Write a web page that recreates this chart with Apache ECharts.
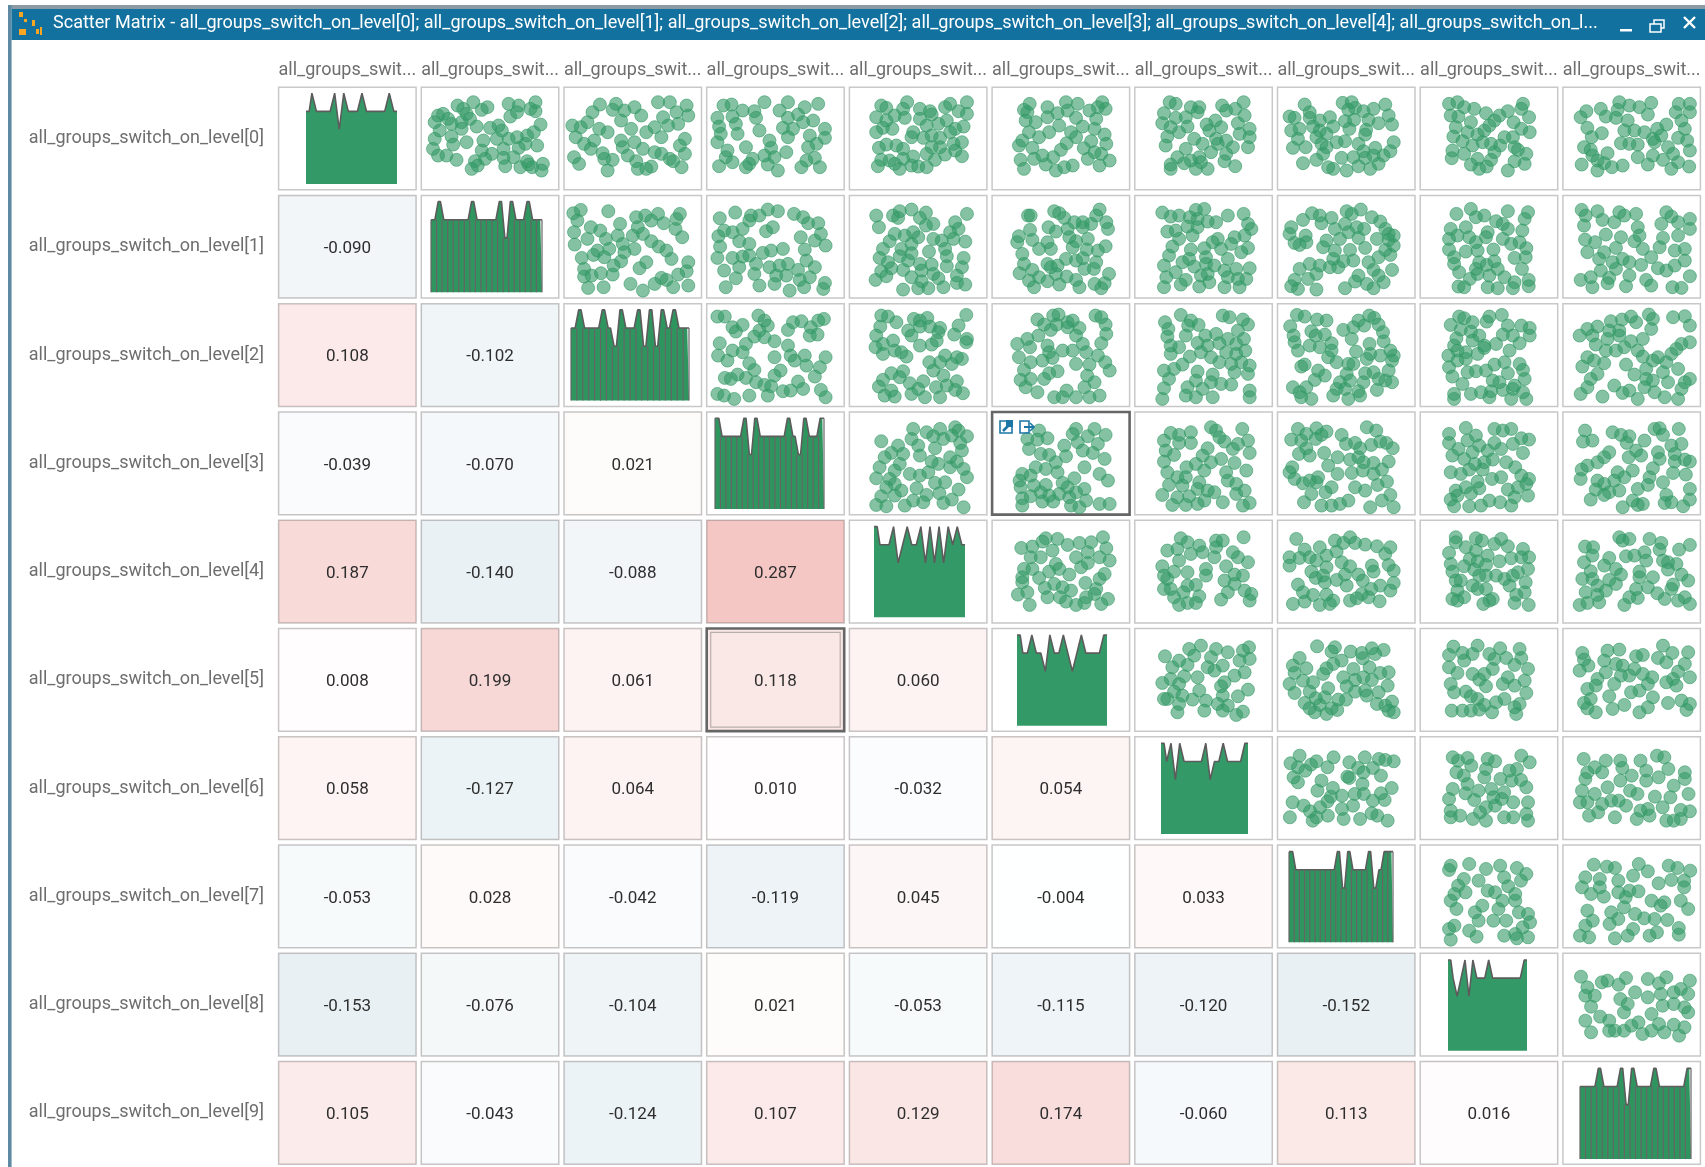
<!DOCTYPE html>
<html><head><meta charset="utf-8"><style>html,body{margin:0;padding:0;background:#fff}#c{width:1705px;height:1167px;filter:blur(0.45px)}</style>
<script src="https://cdn.jsdelivr.net/npm/echarts@6/dist/echarts.min.js"></script></head><body><div id="c"></div>
<script>
const names=[0,1,2,3,4,5,6,7,8,9].map(i=>`all_groups_switch_on_level[${i}]`);
const windowTitle="Scatter Matrix - all_groups_switch_on_level[0]; all_groups_switch_on_level[1]; all_groups_switch_on_level[2]; all_groups_switch_on_level[3]; all_groups_switch_on_level[4]; all_groups_switch_on_l...";
// correlation, lower triangle, one list per row
const corr1=[-0.090];
const corr2=[0.108,-0.102];
const corr3=[-0.039,-0.070,0.021];
const corr4=[0.187,-0.140,-0.088,0.287];
const corr5=[0.008,0.199,0.061,0.118,0.060];
const corr6=[0.058,-0.127,0.064,0.010,-0.032,0.054];
const corr7=[-0.053,0.028,-0.042,-0.119,0.045,-0.004,0.033];
const corr8=[-0.153,-0.076,-0.104,0.021,-0.053,-0.115,-0.120,-0.152];
const corr9=[0.105,-0.043,-0.124,0.107,0.129,0.174,-0.060,0.113,0.016];
// histogram counts per bin, diagonal
const h0=[4,5,4,4,4,4,5,3,5,4,4,4,5,4,4,4,4,4,5,4];
const h1=[4,5,4,4,4,4,4,5,4,4,4,4,5,3,5,4,4,5,4,4];
const h2=[4,5,4,4,4,5,4,3,5,4,4,5,3,5,3,5,4,5,4,4];
const h3=[5,4,4,4,4,5,3,5,4,4,4,4,4,5,4,3,5,4,4,5];
const h4=[5,4,4,4,5,3,4,5,4,4,5,3,5,3,5,3,5,4,5,4];
const h5=[5,4,4,5,4,4,3,5,4,4,5,4,3,4,5,4,4,4,4,5];
const h6=[5,4,5,3,5,4,4,4,4,4,5,3,4,4,5,4,4,4,4,5];
const h7=[5,4,4,4,4,4,4,4,4,5,3,5,4,4,4,5,3,4,5,5];
const h8=[5,4,3,4,5,3,5,4,4,4,5,4,4,4,4,4,4,4,4,5];
const h9=[4,4,4,5,4,4,4,5,3,5,4,4,4,5,4,4,4,4,4,5];
// scatter samples, flat x,y lists; sNM = row N, column M
const s01=[155,45,108,55,125,65,135,80,197,60,180,68,260,50,290,55,340,45,340,72,325,65,265,88,285,75,65,80,50,85,80,95,40,105,145,95,120,105,90,110,355,112,335,135,315,145,230,115,205,122,165,118,240,130,120,125,55,130,40,155,90,148,135,165,185,160,225,155,260,155,285,150,310,170,345,175,245,185,290,182,95,172,180,190,35,185,50,205,75,205,105,218,210,200,190,215,160,222,245,212,275,210,168,235,150,245,250,237,295,240,315,222,330,240,362,230,358,250,320,232];
const s02=[107,52,155,50,280,45,315,45,365,55,210,60,145,68,180,70,85,75,70,105,25,115,50,120,105,125,130,135,170,100,230,85,295,90,335,75,370,85,340,110,310,115,200,125,270,120,245,135,290,150,35,150,60,170,90,160,170,160,210,165,175,180,80,185,115,198,235,185,270,195,290,200,190,205,360,155,345,175,360,200,315,215,30,210,45,230,120,215,145,218,215,222,130,250,260,238,220,245,245,245,350,240,325,222];
const s03=[50,55,74,52,172,45,242,45,332,50,292,60,107,70,142,72,217,70,272,82,32,92,77,88,147,92,242,92,317,100,287,105,37,118,87,110,157,130,227,122,257,125,352,125,42,140,92,140,32,165,187,160,242,150,307,145,352,152,117,180,192,182,237,195,327,170,302,180,62,190,57,210,172,205,202,210,137,215,77,225,297,220,322,212,37,237,117,240,127,230,182,232,212,250,282,240,337,240];
const s04=[172,45,95,55,110,62,160,65,350,45,300,50,285,60,210,65,240,72,325,72,80,90,135,85,165,92,110,100,210,95,245,82,350,80,290,100,265,110,230,115,340,118,315,125,80,135,100,122,128,125,190,135,220,152,245,145,270,152,185,150,300,135,110,172,88,182,140,175,160,185,310,170,335,165,245,180,270,180,315,190,335,207,285,202,255,218,230,200,190,208,160,215,95,218,120,220,85,237,150,245,185,235,205,238,230,240,135,230];
const s05=[112,50,255,50,220,45,328,45,338,65,315,60,290,70,95,68,165,60,195,78,105,75,225,70,100,100,130,105,165,90,250,92,310,95,200,115,170,135,110,135,270,118,305,125,235,135,250,150,335,142,140,150,80,175,90,160,222,168,295,162,340,170,120,182,205,188,273,183,305,195,325,200,85,218,125,215,150,205,182,210,285,215,350,220,160,232,95,245,190,250,215,240,240,235,320,235];
const s06=[104,45,122,50,324,45,260,55,167,60,192,60,187,75,272,70,299,65,87,78,122,92,152,90,327,85,82,108,107,120,240,100,214,112,307,108,157,118,132,135,97,148,257,120,222,130,342,125,312,140,92,175,177,155,242,155,272,160,202,170,342,150,337,180,292,180,152,185,247,170,227,195,272,200,127,210,192,210,167,220,107,232,147,228,197,225,267,222,107,245,182,245,217,245,299,237];
const s07=[81,52,194,47,221,45,321,52,231,62,211,68,286,65,256,72,331,85,36,88,51,92,96,75,96,92,126,100,156,90,201,102,228,98,271,98,301,108,341,112,106,118,41,130,66,125,126,130,166,118,214,125,264,128,261,142,116,150,146,140,61,155,176,165,201,162,346,165,131,170,46,182,84,180,146,180,241,170,336,192,291,182,256,192,136,200,286,205,316,205,116,218,76,228,191,212,226,210,261,212,301,230,151,240,166,245,206,250,241,237,276,245];
const s08=[86,50,111,45,131,60,161,65,306,50,301,65,261,72,196,78,91,85,114,88,236,85,324,90,151,105,221,100,278,105,206,115,106,120,191,130,141,135,301,125,326,135,99,148,171,142,251,150,276,150,126,162,156,175,186,165,211,170,238,175,281,180,96,190,291,188,131,200,221,195,316,200,94,213,171,215,211,218,281,222,311,230,151,232,176,245,198,238,261,250];
const s09=[53,90,70,72,113,65,168,45,198,55,228,60,263,47,345,50,378,50,163,68,128,88,253,82,336,75,378,75,158,92,193,100,353,100,73,122,183,130,213,130,243,135,281,125,308,112,363,125,116,138,86,150,268,155,293,145,343,152,370,160,173,168,198,170,223,172,273,165,313,180,63,180,83,188,378,190,133,198,88,205,328,200,223,210,268,205,103,220,298,218,56,232,123,228,253,232,343,225,178,235,146,240,103,250,323,245,376,238];
const s12=[50,43,132,47,28,53,40,75,167,85,80,95,108,105,30,110,70,130,32,147,125,130,160,120,215,65,242,60,280,55,260,75,297,83,345,55,335,70,332,100,352,125,220,95,205,120,235,115,260,137,282,153,305,165,210,160,175,145,180,170,135,160,100,165,88,178,120,185,53,187,170,197,320,190,370,200,245,200,225,218,148,210,60,220,110,233,82,240,60,243,145,237,365,227,340,237,290,247,305,253,270,265,198,265,72,277,118,275,235,285,325,275,370,270];
const s13=[85,51,39,68,182,42,212,47,157,60,132,60,127,75,260,55,287,65,302,83,332,83,107,100,77,110,52,105,35,122,197,95,177,107,340,115,322,135,354,150,280,125,97,137,127,145,40,153,32,187,77,187,107,183,127,180,167,172,192,165,227,160,292,162,297,195,147,205,97,215,52,225,187,215,217,210,242,205,272,223,322,215,142,235,87,248,207,240,237,240,307,245,277,253,57,275,157,270,202,265,247,285,290,275,352,262,347,280];
const s14=[80,60,150,47,185,42,228,51,350,55,130,60,145,67,88,95,210,67,250,85,228,90,315,80,325,100,135,115,190,110,165,120,205,125,300,110,120,137,250,130,275,135,345,138,310,130,100,160,155,160,185,145,237,168,285,160,185,173,90,187,150,182,290,182,340,187,115,200,175,195,210,205,245,207,290,212,335,215,125,218,95,227,160,223,215,225,250,235,265,248,320,240,110,242,78,253,185,245,215,257,345,267,320,262,160,282,205,278,235,278,280,275];
const s15=[107,60,115,60,185,47,200,53,215,67,320,42,310,60,340,80,345,100,245,80,270,80,295,85,168,95,190,108,113,103,80,122,75,140,225,100,270,95,230,125,285,130,250,137,120,133,165,140,140,160,175,160,240,155,282,162,315,165,338,152,90,175,95,205,220,190,270,188,250,195,310,200,165,205,195,210,82,233,120,223,175,215,303,220,275,220,348,235,140,245,110,255,190,235,222,243,250,253,165,257,335,263,305,265,200,267,125,275,260,275,325,278];
const s16=[82,51,107,63,132,60,182,43,207,40,187,70,164,65,324,55,277,60,337,85,242,80,217,78,187,95,157,93,97,108,122,105,347,100,327,120,297,125,247,130,132,130,172,120,232,140,257,160,112,153,287,145,317,170,337,157,167,162,102,180,207,158,212,185,277,190,162,190,142,200,87,210,212,205,237,210,267,225,302,220,342,218,122,230,177,213,197,240,94,245,152,253,217,235,307,250,277,245,332,250,222,260,87,275,137,267,192,273,267,275,312,275];
const s17=[103,53,206,47,248,42,126,60,221,55,161,67,76,73,281,65,41,95,131,83,201,85,306,78,171,100,236,95,258,100,36,115,84,120,211,110,321,100,346,120,331,115,241,127,296,130,186,130,51,142,66,148,86,140,146,135,331,133,261,157,346,150,136,155,216,163,171,165,321,163,336,178,301,185,166,190,226,195,196,197,156,215,271,200,181,215,66,220,96,205,126,210,286,223,341,223,116,235,91,250,51,253,241,240,231,258,301,240,266,265,316,260,41,272,61,280,116,282,201,278,286,278];
const s18=[108,55,151,40,261,47,321,50,191,60,166,65,311,70,226,77,91,100,136,95,246,85,304,105,261,100,201,110,86,130,111,120,146,125,166,140,196,125,246,130,271,145,296,140,86,162,136,168,171,165,218,162,316,158,281,187,314,185,101,185,101,205,176,200,221,197,198,208,303,220,166,220,116,230,231,220,171,235,206,240,251,245,148,250,323,253,281,260,114,273,131,275,201,275,231,278,276,278,323,272];
const s19=[56,43,103,47,168,50,218,55,308,50,68,60,183,60,323,63,118,73,153,80,378,70,343,80,293,85,63,90,223,95,378,100,128,117,173,125,228,120,298,127,343,120,66,132,213,137,96,140,238,160,288,155,363,160,73,170,123,170,158,157,263,185,333,165,108,190,178,190,148,200,198,200,363,195,233,208,333,210,283,218,158,220,113,225,308,225,198,240,83,245,378,242,53,253,138,247,248,253,88,275,188,272,133,263,263,270,326,275,353,277];
const s23=[32,38,54,38,154,35,172,50,282,52,257,55,349,45,332,50,107,63,77,70,87,83,182,65,157,80,242,78,310,70,307,95,330,92,142,98,172,100,202,112,39,118,117,120,107,145,77,140,242,125,250,155,292,155,34,155,62,170,127,178,202,160,262,170,354,160,297,185,337,190,220,200,202,215,142,198,92,212,54,222,72,225,117,222,322,218,147,235,172,243,192,247,272,233,250,260,287,255,32,270,52,275,127,275,182,275,227,262,340,258,354,280,82,285];
const s24=[95,35,115,38,192,45,210,50,232,42,348,33,140,55,92,68,325,65,270,72,240,68,210,68,175,80,265,85,312,92,80,95,185,95,350,105,348,115,130,110,260,110,245,122,78,130,100,120,210,125,135,140,155,145,100,150,170,158,285,155,320,160,335,165,238,175,270,175,305,180,250,200,280,215,125,208,160,202,150,220,320,232,100,228,88,248,180,238,220,232,258,250,290,245,315,258,338,268,125,260,205,255,105,275,135,278,185,270,270,280,225,280];
const s25=[135,47,182,35,198,32,308,35,325,40,338,62,225,55,240,50,155,62,192,62,225,70,260,72,175,78,138,95,105,105,340,90,250,95,75,120,113,130,165,125,270,120,325,118,80,160,170,145,210,140,240,140,280,145,150,170,180,162,115,175,315,155,337,175,95,198,250,180,290,182,350,200,195,202,170,208,155,225,85,228,115,225,283,215,305,235,100,250,135,265,275,250,222,260,185,280,210,280,250,280,320,275,290,280];
const s26=[137,33,262,35,282,40,90,55,167,50,322,47,337,62,159,65,190,63,100,75,307,80,152,95,210,95,242,90,97,98,277,105,325,105,302,120,187,117,217,125,132,130,107,125,252,118,329,140,107,150,197,145,227,160,164,158,272,145,302,150,142,182,87,200,252,175,287,180,317,175,117,195,342,185,187,203,232,212,297,205,337,210,102,225,182,230,227,235,257,240,287,242,157,250,87,253,202,255,342,260,152,275,182,280,82,285,232,280,342,280];
const s27=[58,33,81,38,118,47,146,50,273,35,288,42,241,50,38,67,196,78,226,70,258,65,301,62,101,82,114,95,141,92,314,85,48,95,221,105,51,115,96,125,161,118,126,130,316,112,274,120,61,140,234,143,161,140,336,140,276,150,306,155,346,155,151,160,266,165,176,175,211,180,226,180,341,170,81,182,71,188,121,200,141,215,206,210,261,208,286,205,331,200,111,228,186,235,216,230,256,235,301,225,341,235,321,230,46,250,86,250,176,255,201,255,241,262,296,258,66,265,71,280,101,285,166,275,211,285,246,275];
const s28=[116,38,131,43,156,55,206,38,198,53,243,33,91,63,121,77,261,65,301,65,326,72,151,83,176,95,246,92,276,95,326,95,108,103,156,110,296,118,191,125,226,120,101,125,266,140,84,155,111,140,136,145,171,150,191,132,111,170,86,190,136,165,221,182,251,175,296,180,96,218,141,205,166,202,196,200,261,208,306,198,311,225,126,240,216,230,236,235,281,245,101,270,151,270,181,265,211,262,246,258,276,255,306,265,101,285,206,280,271,285,316,285];
const s29=[50,95,73,75,103,68,143,52,176,47,203,38,256,32,268,45,328,40,363,37,378,65,218,55,138,80,168,80,88,95,133,105,168,95,263,75,203,112,238,105,378,115,353,120,98,122,128,140,158,140,183,130,223,140,238,158,323,150,338,135,73,160,123,178,93,170,58,188,188,182,283,160,268,170,308,175,248,195,343,195,103,210,213,212,298,205,378,225,363,235,83,225,248,225,268,230,313,235,153,245,243,250,73,250,53,270,178,267,198,260,118,278,273,265,353,255,303,280,343,285,223,285];
const s34=[95,87,190,50,230,60,270,50,315,45,325,55,350,72,250,72,185,80,280,80,305,70,330,92,205,100,145,100,255,108,125,122,160,125,105,135,210,130,335,115,300,135,90,165,150,155,245,148,320,148,265,155,300,165,180,185,135,175,210,190,235,180,340,170,80,198,350,195,120,200,135,215,110,225,155,235,200,228,255,212,285,210,325,232,135,250,230,248,268,243,95,252,305,262,190,265,220,270,80,278,110,282,165,280,280,272,340,285];
const s35=[140,55,250,50,305,50,338,68,105,80,135,82,165,78,240,65,285,72,110,110,145,125,255,90,315,95,215,100,170,128,300,122,270,115,220,132,190,150,275,165,335,140,130,165,160,170,195,180,320,185,345,205,90,185,115,190,245,198,82,205,210,212,125,220,160,218,85,225,225,225,275,230,145,240,200,245,250,240,115,252,90,258,170,250,230,255,150,268,182,268,280,265,235,280,90,280,260,285,320,275,350,275];
const s36=[227,45,320,50,167,60,107,62,132,68,242,55,252,75,87,85,337,85,167,92,132,92,267,88,307,95,217,108,292,110,92,115,117,128,342,122,202,130,257,140,87,148,182,155,227,150,297,152,154,165,97,180,207,175,332,175,272,180,127,195,152,195,277,205,302,215,102,218,192,210,142,220,327,235,82,248,187,230,237,240,217,235,302,245,127,255,162,252,262,270,112,278,152,278,187,275,207,265,322,280,342,272];
const s37=[61,50,116,48,146,58,266,45,294,55,191,68,86,65,131,68,41,82,71,85,114,80,204,95,231,92,279,98,306,88,324,92,343,108,86,108,246,108,64,125,96,130,139,122,216,142,179,135,241,135,331,148,286,152,44,165,151,160,256,150,36,180,179,185,221,182,254,175,311,172,286,185,51,200,121,195,96,205,76,213,116,210,298,218,326,208,161,225,231,225,261,235,143,240,101,245,211,265,336,248,311,265,79,270,131,280,161,280,186,275,346,285,276,285];
const s38=[136,47,221,50,271,50,86,65,166,70,246,55,301,78,324,82,141,85,86,92,176,100,221,92,276,95,114,110,156,120,201,115,241,110,306,122,96,130,131,140,216,142,191,150,256,150,163,155,283,165,91,180,121,185,146,172,186,172,214,200,241,195,171,208,301,190,324,200,136,225,106,235,261,232,291,225,316,215,176,228,151,243,321,250,281,255,91,262,111,250,206,265,238,270,181,280,146,282,101,282,271,280];
const s39=[66,55,60,88,88,85,148,60,173,68,198,72,273,50,288,48,298,68,345,50,190,92,243,85,323,100,353,95,218,115,196,135,233,130,283,120,333,125,138,120,123,135,103,150,288,140,363,142,333,148,73,160,378,148,208,175,163,180,268,168,56,172,328,182,366,187,53,200,183,195,103,205,258,195,153,205,123,215,253,218,298,210,138,240,168,235,98,232,378,230,223,230,308,248,83,262,123,248,208,265,238,275,378,262,303,272,323,270,178,285,223,278,358,282];
const s45=[195,55,330,50,87,82,120,78,150,63,160,53,225,73,260,67,295,65,340,83,180,90,145,110,115,110,250,110,285,95,350,120,320,110,95,145,190,130,285,127,230,162,170,153,200,145,265,140,335,160,320,175,120,145,90,170,140,172,278,187,185,190,210,200,90,185,157,202,235,210,310,205,77,222,105,215,165,230,202,230,305,220,345,235,280,230,220,243,112,253,250,253,275,247,325,250];
const s46=[324,50,137,53,192,75,242,60,262,60,242,80,97,90,127,85,157,65,167,100,202,95,237,110,292,95,307,110,132,120,337,125,82,137,212,145,272,137,87,165,117,153,157,155,297,162,97,175,212,165,322,165,182,193,267,180,297,190,107,205,87,205,157,195,327,210,347,220,277,215,145,215,117,230,342,240,257,237,192,227,132,253,182,247,157,247];
const s47=[56,55,216,50,171,60,196,67,231,67,261,72,296,77,336,80,81,87,126,80,176,93,321,100,36,110,66,112,96,110,116,120,146,105,191,125,216,137,281,135,36,135,331,133,346,150,146,140,101,153,241,162,286,153,201,162,114,172,136,165,176,178,141,185,254,180,61,192,206,195,346,187,306,195,279,205,336,210,76,215,106,223,146,222,251,220,46,250,81,243,126,253,166,240,156,250,236,233,216,240,304,242,271,230];
const s48=[106,50,106,65,166,53,184,60,241,55,221,70,261,77,136,80,86,97,306,85,201,105,271,113,301,110,324,110,166,90,148,115,91,130,131,137,171,122,196,133,236,122,96,153,161,147,321,145,291,155,276,165,196,165,121,180,176,165,251,175,226,165,106,180,156,195,314,185,266,195,171,205,111,210,196,205,311,215,286,223,96,235,131,230,206,240,216,235,111,240,188,250,281,247,323,253];
const s49=[66,78,90,80,168,50,198,55,258,55,293,67,378,73,178,60,88,105,188,107,213,105,243,95,288,87,346,87,138,112,63,125,298,120,248,120,123,135,158,145,313,125,338,130,83,152,228,153,313,147,58,175,88,175,173,162,228,170,353,162,268,170,138,178,158,190,373,180,103,195,218,205,253,200,328,192,323,205,68,215,128,210,103,223,281,218,198,230,223,232,303,235,50,253,73,247,108,245,183,253,343,240,363,230,378,250];
const s56=[90,82,162,60,197,50,242,60,277,70,340,55,322,65,132,95,177,80,227,85,342,90,312,95,157,108,112,115,217,115,262,110,237,125,327,130,187,145,107,150,82,162,147,142,297,140,267,160,132,165,192,185,257,172,117,188,337,182,97,210,87,210,172,212,212,215,262,200,307,202,142,200,132,225,247,225,277,230,127,250,207,245,322,248,262,245,302,258];
const s57=[118,52,171,55,161,68,218,68,281,58,316,63,251,72,291,75,66,87,191,95,166,105,254,88,46,110,86,118,146,118,226,120,274,115,51,132,136,135,196,145,331,130,306,132,76,155,36,165,106,160,256,145,231,153,281,153,51,192,206,172,151,178,96,188,231,188,261,185,328,170,301,190,266,200,141,205,114,208,181,212,204,212,81,222,126,228,296,225,341,218,321,230,96,238,111,250,161,238,178,243,146,255,331,245,346,250];
const s58=[99,53,171,50,238,58,296,60,86,78,126,72,156,75,206,75,301,87,131,95,221,90,256,87,86,115,281,108,216,120,321,120,111,132,156,135,191,135,261,145,311,155,176,152,91,165,246,165,196,172,281,170,101,190,136,188,151,202,316,192,171,210,191,228,251,210,226,220,296,225,281,235,94,245,126,245,151,245,176,242,214,250,286,255];
const s59=[58,72,63,92,133,65,168,62,218,82,238,78,298,50,326,72,373,70,283,87,123,95,363,105,308,100,178,110,213,120,50,125,76,110,158,105,128,130,343,128,238,135,173,140,198,140,266,145,103,150,378,145,328,150,308,160,153,165,338,170,98,170,73,180,253,165,228,185,203,190,268,205,83,210,138,202,253,235,63,222,313,222,183,228,148,240,73,238,98,250,228,250,353,215,368,243,378,225];
const s67=[39,78,66,55,167,60,260,60,214,75,302,65,346,72,321,68,116,72,100,82,61,90,149,90,240,92,284,92,83,100,256,105,48,120,208,118,308,115,61,135,131,130,214,122,253,140,165,152,119,160,340,152,308,168,192,175,230,170,257,170,159,178,284,190,319,188,45,195,78,205,149,192,127,210,225,205,192,215,97,222,280,228,297,235,150,235,116,240,37,240,197,245,246,245,328,250,105,250];
const s68=[97,60,113,70,301,55,326,75,141,62,201,65,223,72,152,85,196,95,288,95,266,100,108,105,130,115,239,125,191,120,272,130,300,128,141,140,97,155,174,160,212,155,316,150,250,165,135,168,86,185,161,188,218,180,277,195,321,195,243,185,196,210,223,205,91,220,316,230,178,225,119,235,91,240,157,245,196,250,250,240,277,240,321,250];
const s69=[62,65,128,70,280,55,302,60,171,70,231,70,95,90,177,92,248,100,73,105,314,95,363,105,117,105,205,115,285,120,67,125,363,125,133,150,171,130,248,130,57,160,200,160,95,170,330,145,374,170,222,170,274,178,320,180,51,195,73,195,117,200,144,190,166,190,188,205,297,210,253,215,231,220,351,218,378,222,78,235,155,240,105,225,220,245,258,235,308,250,351,245,330,250];
const s78=[86,73,91,60,146,55,238,60,196,70,288,67,316,85,300,105,130,100,174,105,250,95,113,120,201,135,262,122,102,145,135,140,223,140,283,145,91,165,283,165,245,165,108,190,185,180,233,190,163,200,294,200,321,205,174,225,218,225,256,225,327,230,102,240,86,250,146,255,305,245,283,265,250,270,168,273,91,282,321,275,288,278];
const s79=[92,57,131,63,155,67,226,55,253,77,315,60,341,67,379,75,209,90,67,95,110,100,165,105,285,113,323,103,361,105,57,125,110,125,198,135,225,137,84,145,122,153,165,140,361,125,187,155,351,165,264,165,302,170,291,180,373,190,73,195,144,200,182,185,215,205,242,218,273,220,311,223,89,225,165,220,67,240,139,235,209,250,345,247,51,270,78,275,193,270,258,270,280,260,345,267,155,278];
const s89=[54,68,133,80,188,72,253,75,308,70,73,100,116,85,166,92,286,88,378,80,67,125,95,125,215,115,253,130,292,120,351,105,330,115,373,120,171,135,84,158,193,150,264,180,297,155,330,150,362,160,373,175,182,175,111,188,67,200,138,200,225,205,286,210,330,212,84,235,155,230,182,230,237,240,264,230,302,235,362,220,346,245,138,230,204,215];

const corrRows=[[],corr1,corr2,corr3,corr4,corr5,corr6,corr7,corr8,corr9];
const hists=[h0,h1,h2,h3,h4,h5,h6,h7,h8,h9];
const scatterCells={s01,s02,s03,s04,s05,s06,s07,s08,s09,s12,s13,s14,s15,s16,s17,s18,s19,s23,s24,s25,s26,s27,s28,s29,s34,s35,s36,s37,s38,s39,s45,s46,s47,s48,s49,s56,s57,s58,s59,s67,s68,s69,s78,s79,s89};

// layout & style
const GREEN='#339966',FONT='Roboto, sans-serif';
const X0=278.6,Y0=87.2,PX=142.7,PY=108.35,CW=137.5,CH=102.7;
const histLeft=[306,431,571,715,874,1017,1161,1289,1448,1580];
const histWidth=[91,111,118,109,91,90,87,104,79,111];
const histLined=[0,1,1,1,0,0,0,1,0,1];
const boxSel=[3,5],boxCorr=[5,3]; // [row,col]

const grids=[{left:X0-2.6,top:Y0-2.82,width:PX*10,height:PY*10}];
const xAxes=[{type:'category',position:'top',data:names,axisLine:{show:false},axisTick:{show:false},splitLine:{show:false},
  axisLabel:{interval:0,margin:5,color:'#6e6e6e',fontFamily:FONT,fontSize:18,width:141,overflow:'truncate',ellipsis:'...'}}];
const yAxes=[{type:'category',inverse:true,data:names,axisLine:{show:false},axisTick:{show:false},splitLine:{show:false},
  axisLabel:{interval:0,margin:12,color:'#6e6e6e',fontFamily:FONT,fontSize:18,padding:[8,0,0,0]}}];

function cell(api){
  const c=api.coord([api.value(0),api.value(1)]);
  return {x:c[0]-CW/2,y:c[1]-CH/2,width:CW,height:CH};
}
const whiteCells=[],heat=[];
for(let r=0;r<10;r++)for(let c=0;c<10;c++){ if(c>=r) whiteCells.push([c,r]); else heat.push([c,r,corrRows[r][c]]); }

const series=[
 {type:'custom',xAxisIndex:0,yAxisIndex:0,z:1,silent:true,data:whiteCells,renderItem(p,api){
   const sel=api.value(1)===boxSel[0]&&api.value(0)===boxSel[1];
   return {type:'rect',shape:cell(api),style:{fill:'#fff',stroke:sel?'#666':'#c8c8c8',lineWidth:sel?2.6:1.5}};
 }},
 {type:'custom',xAxisIndex:0,yAxisIndex:0,z:1,silent:true,data:heat,encode:{x:0,y:1},renderItem(p,api){
   const s=cell(api),col=api.visual('color'),v=api.value(2);
   const sel=api.value(1)===boxCorr[0]&&api.value(0)===boxCorr[1];
   const kids=[{type:'rect',shape:s,style:{fill:col,stroke:sel?'#666':'rgba(60,50,50,0.28)',lineWidth:sel?2.6:1.5}}];
   if(sel) kids.push({type:'rect',shape:{x:s.x+4,y:s.y+4,width:s.width-8,height:s.height-8},style:{fill:'none',stroke:'#b9aeae',lineWidth:1.2}});
   kids.push({type:'text',style:{text:v.toFixed(3),x:s.x+s.width/2,y:s.y+s.height/2+2,textAlign:'center',textVerticalAlign:'middle',fill:'#2e2e2e',font:'17px '+FONT}});
   return {type:'group',children:kids};
 }}
];

const pairs=f=>{const o=[];for(let i=0;i<f.length;i+=2)o.push([f[i],f[i+1]]);return o;};
let gi=1;
for(let r=0;r<9;r++)for(let c=r+1;c<10;c++){
  grids.push({left:X0+c*PX+6,top:Y0+r*PY+6,width:CW-12.5,height:CH-12.7});
  xAxes.push({type:'value',gridIndex:gi,min:18,max:390,show:false,splitLine:{show:false}});
  yAxes.push({type:'value',gridIndex:gi,min:18,max:288,inverse:true,show:false,splitLine:{show:false}});
  series.push({type:'scatter',xAxisIndex:gi,yAxisIndex:gi,z:2,clip:true,silent:true,symbolSize:13,data:pairs(scatterCells['s'+r+c]),
    itemStyle:{color:GREEN,opacity:0.6,borderColor:GREEN,borderWidth:1}});
  gi++;
}
for(let d=0;d<10;d++){
  const h=hists[d],pts=[[0,h[0]]],edges=[];
  h.forEach((v,i)=>{pts.push([i+0.3,v],[i+0.7,v]);});
  pts.push([20,h[19]]);
  for(let e=0;e<=20;e++){const a=h[e-1],b=h[e];edges.push([e,a===undefined?b:b===undefined?a:Math.min(a,b)]);}
  grids.push({left:histLeft[d],top:Y0+d*PY+6,width:histWidth[d],height:90.7});
  xAxes.push({type:'value',gridIndex:gi,min:0,max:20,splitLine:{show:false},axisTick:{show:false},axisLabel:{show:false},
    axisLine:{show:!!histLined[d],onZero:false,lineStyle:{color:'#666',width:1.5}}});
  yAxes.push({type:'value',gridIndex:gi,min:0,max:5,show:false,splitLine:{show:false}});
  series.push({type:'line',xAxisIndex:gi,yAxisIndex:gi,z:2,silent:true,clip:false,showSymbol:false,data:pts,
    lineStyle:{color:'#5c5c5c',width:1.6},areaStyle:{color:histLined[d]?'#2f955f':GREEN,opacity:1}});
  if(histLined[d]) series.push({type:'bar',xAxisIndex:gi,yAxisIndex:gi,z:3,silent:true,clip:false,barWidth:1.2,data:edges,itemStyle:{color:'#666'}});
  gi++;
}

const BLUE='#12719f',ICON='#1b76a6';
const ln=(pts,stroke,w,z)=>({type:'polyline',shape:{points:pts},style:{stroke,lineWidth:w,fill:'none'},z:z||100,silent:true});
const box=(x,y,w,h,s)=>({type:'rect',shape:{x,y,width:w,height:h},style:s,z:100,silent:true});
const graphic=[
 box(8,5,1697,4,{fill:'#8c9aa3'}),
 box(8,5,3.6,1162,{fill:'#5f8aa3'}),
 box(11.6,9,1694,31,{fill:BLUE}),
 // app icon
 box(19,12,4,5,{fill:'#f6a623'}),box(19,29,7,6,{fill:'#f6a623'}),box(24,19,3,3,{fill:'#f6a623'}),
 box(32,20,3,6,{fill:'#f6a623'}),box(36,29,3,5,{fill:'#f6a623'}),box(40,27,2,8,{fill:'#f6a623'}),
 // window buttons
 box(1620,29,12,2.5,{fill:'#fff'}),
 box(1650,24,11,8,{fill:'none',stroke:'#fff',lineWidth:1.5}),ln([[1654,24],[1654,20],[1664,20],[1664,28],[1661,28]],'#fff',1.5),
 ln([[1684,17],[1695,28]],'#fff',2.4),ln([[1695,17],[1684,28]],'#fff',2.4),
 // cell tool icons
 box(1000,421,12,12,{fill:'none',stroke:ICON,lineWidth:1.6}),
 ln([[1003,431],[1011,423]],ICON,2.6),box(1006,420,7,7,{fill:ICON}),
 box(1020,421,9,12,{fill:'none',stroke:ICON,lineWidth:1.6}),
 ln([[1024,427],[1033,427]],ICON,2),ln([[1030,423],[1034,427],[1030,431]],ICON,1.6)
];

const chart=echarts.init(document.getElementById('c'),null,{renderer:'canvas',width:1705,height:1167});
chart.setOption({
 animation:false,backgroundColor:'#fff',
 title:{text:windowTitle,left:48,top:9,textStyle:{color:'#fff',fontFamily:FONT,fontSize:18.05,fontWeight:'normal'},z:120},
 tooltip:{show:false},legend:{show:false},
 visualMap:{show:false,type:'continuous',seriesIndex:1,dimension:2,min:-0.287,max:0.287,inRange:{color:['#d4e3ea','#ffffff','#f4c7c5']}},
 graphic:{elements:graphic},
 grid:grids,xAxis:xAxes,yAxis:yAxes,series
});
</script></body></html>
